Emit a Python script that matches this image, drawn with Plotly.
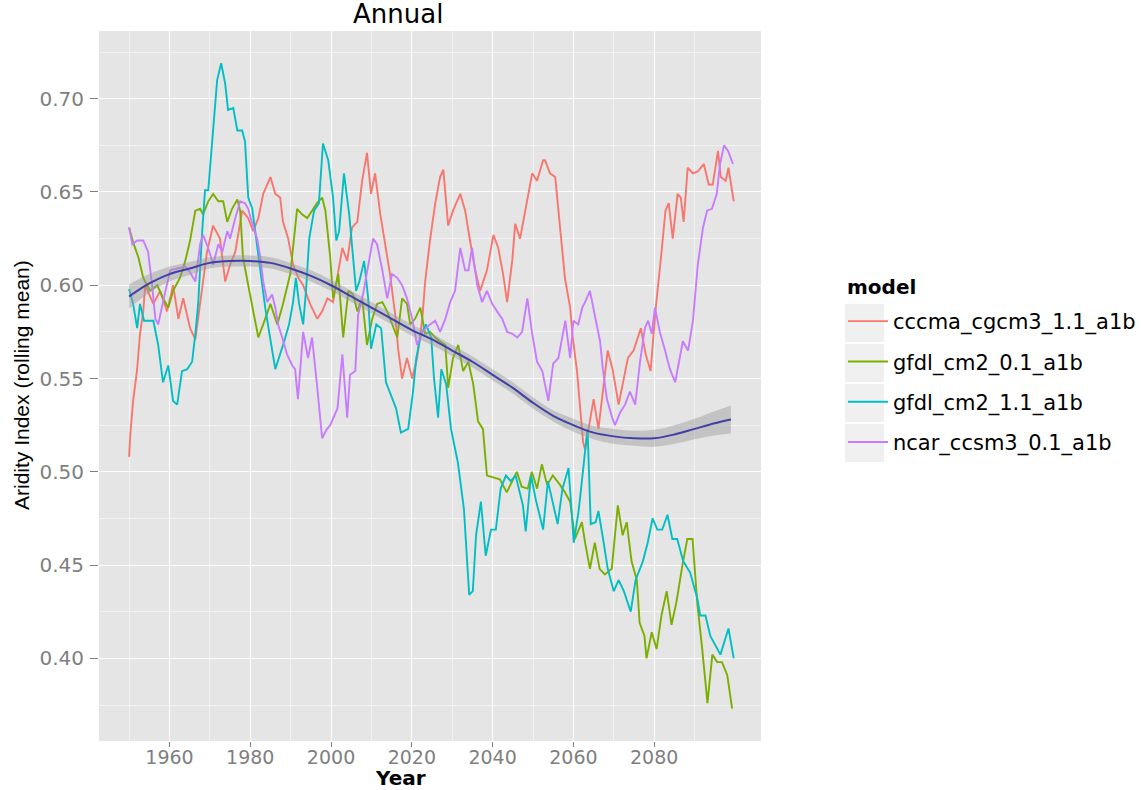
import plotly.graph_objects as go

# Rolling-mean aridity index per model (year, value)
cccma_years = [1950.0, 1950.3, 1951.0, 1952.0, 1952.7, 1953.5, 1954.0, 1956.0, 1957.7, 1959.4, 1960.9, 1962.2,
               1963.4, 1965.1, 1966.4, 1968.1, 1969.3, 1970.8, 1972.5, 1973.8, 1975.0, 1976.3, 1978.0, 1979.5,
               1980.7, 1982.0, 1983.2, 1985.0, 1986.2, 1987.4, 1988.1, 1989.4, 1990.6, 1991.9, 1993.1, 1994.8,
               1996.6, 1997.8, 1999.1, 2000.5, 2001.6, 2002.8, 2004.0, 2005.2, 2006.5, 2007.7, 2008.9, 2009.9,
               2010.9, 2012.2, 2013.4, 2014.6, 2015.9, 2016.6, 2017.6, 2018.8, 2020.1, 2021.3, 2022.6, 2023.3,
               2024.5, 2025.8, 2027.0, 2027.8, 2029.0, 2030.2, 2032.0, 2033.2, 2034.4, 2035.7, 2036.9, 2038.6,
               2040.2, 2041.4, 2042.6, 2043.6, 2044.9, 2045.6, 2046.8, 2048.6, 2049.8, 2051.0, 2052.5, 2053.0,
               2054.2, 2055.5, 2056.2, 2057.2, 2057.9, 2059.2, 2059.9, 2060.9, 2061.7, 2062.4, 2062.9, 2065.0,
               2066.2, 2068.5, 2069.7, 2071.2, 2073.5, 2074.9, 2076.7, 2077.9, 2079.1, 2080.4, 2081.6, 2082.8,
               2083.6, 2084.6, 2085.8, 2086.6, 2087.3, 2088.3, 2089.6, 2090.8, 2092.3, 2093.5, 2094.5, 2095.8,
               2096.5, 2097.7, 2098.4, 2099.7]
cccma_vals = [0.508, 0.520, 0.538, 0.555, 0.574, 0.586, 0.600, 0.590, 0.597, 0.586, 0.600, 0.582,
              0.593, 0.577, 0.571, 0.600, 0.618, 0.632, 0.625, 0.602, 0.611, 0.618, 0.640, 0.636,
              0.629, 0.636, 0.649, 0.658, 0.649, 0.647, 0.634, 0.625, 0.611, 0.604, 0.600, 0.590,
              0.582, 0.586, 0.593, 0.591, 0.604, 0.620, 0.613, 0.631, 0.634, 0.656, 0.671, 0.649,
              0.660, 0.638, 0.622, 0.606, 0.584, 0.566, 0.550, 0.561, 0.550, 0.561, 0.582, 0.602,
              0.624, 0.644, 0.658, 0.662, 0.632, 0.640, 0.649, 0.640, 0.624, 0.608, 0.597, 0.608,
              0.627, 0.620, 0.606, 0.591, 0.614, 0.633, 0.625, 0.645, 0.660, 0.656, 0.667, 0.667,
              0.660, 0.658, 0.641, 0.617, 0.604, 0.588, 0.571, 0.554, 0.532, 0.516, 0.512, 0.539,
              0.523, 0.565, 0.555, 0.536, 0.561, 0.565, 0.577, 0.563, 0.554, 0.588, 0.613, 0.640,
              0.644, 0.625, 0.649, 0.647, 0.634, 0.663, 0.660, 0.661, 0.665, 0.654, 0.654, 0.672,
              0.658, 0.656, 0.663, 0.645]

gfdl01_years = [1950.0, 1951.0, 1952.3, 1953.5, 1955.2, 1957.0, 1958.4, 1959.7, 1960.9, 1962.6, 1963.9, 1965.1,
                1966.4, 1967.6, 1968.3, 1969.6, 1970.8, 1972.1, 1973.3, 1974.3, 1975.5, 1976.8, 1977.5, 1978.2,
                1979.5, 1980.7, 1982.0, 1983.2, 1985.0, 1986.7, 1988.1, 1989.9, 1990.6, 1991.6, 1992.8, 1994.1,
                1995.3, 1996.5, 1997.8, 1998.6, 1999.8, 2000.5, 2001.8, 2003.0, 2004.3, 2005.5, 2006.5, 2007.7,
                2008.9, 2010.2, 2011.4, 2012.7, 2013.9, 2015.1, 2016.4, 2017.6, 2018.8, 2019.6, 2020.8, 2022.1,
                2023.3, 2024.5, 2025.8, 2027.0, 2028.3, 2029.0, 2030.2, 2031.5, 2032.7, 2034.0, 2035.2, 2036.4,
                2037.6, 2038.6, 2041.8, 2043.5, 2046.0, 2047.2, 2048.7, 2049.7, 2051.0, 2052.2, 2053.5, 2054.9,
                2056.7, 2057.9, 2059.2, 2060.4, 2062.1, 2062.9, 2064.1, 2065.3, 2066.5, 2067.8, 2069.5, 2071.0,
                2072.2, 2073.2, 2074.4, 2075.7, 2076.4, 2077.6, 2078.1, 2079.4, 2080.6, 2081.8, 2083.1, 2084.3,
                2085.5, 2087.0, 2088.2, 2089.5, 2090.7, 2091.9, 2093.2, 2094.4, 2095.6, 2096.8, 2098.1, 2099.3]
gfdl01_vals = [0.631, 0.623, 0.615, 0.604, 0.597, 0.600, 0.593, 0.588, 0.597, 0.604, 0.613, 0.624,
               0.640, 0.641, 0.638, 0.645, 0.649, 0.645, 0.645, 0.634, 0.641, 0.646, 0.640, 0.615,
               0.600, 0.586, 0.572, 0.579, 0.590, 0.579, 0.590, 0.606, 0.620, 0.641, 0.638, 0.636,
               0.640, 0.644, 0.647, 0.640, 0.615, 0.593, 0.606, 0.572, 0.597, 0.595, 0.586, 0.593,
               0.568, 0.582, 0.590, 0.591, 0.586, 0.579, 0.572, 0.593, 0.590, 0.579, 0.582, 0.588,
               0.574, 0.575, 0.572, 0.570, 0.568, 0.545, 0.561, 0.568, 0.554, 0.559, 0.547, 0.527,
               0.523, 0.498, 0.496, 0.489, 0.500, 0.492, 0.491, 0.500, 0.491, 0.504, 0.493, 0.498,
               0.493, 0.489, 0.484, 0.464, 0.473, 0.462, 0.448, 0.462, 0.448, 0.445, 0.448, 0.482,
               0.466, 0.473, 0.452, 0.442, 0.419, 0.412, 0.400, 0.414, 0.405, 0.423, 0.436, 0.418,
               0.430, 0.450, 0.464, 0.464, 0.429, 0.405, 0.376, 0.402, 0.398, 0.398, 0.391, 0.373]

gfdl11_years = [1950.0, 1951.0, 1952.0, 1952.7, 1953.7, 1954.7, 1956.0, 1957.2, 1958.4, 1959.7, 1960.9, 1961.9,
                1963.1, 1964.4, 1965.6, 1966.4, 1967.1, 1968.1, 1968.8, 1969.6, 1970.6, 1971.8, 1972.8, 1973.8,
                1974.5, 1975.8, 1976.8, 1978.0, 1978.7, 1979.5, 1980.5, 1982.5, 1983.7, 1984.9, 1986.2, 1988.4,
                1989.6, 1990.6, 1991.3, 1992.1, 1993.1, 1993.8, 1994.6, 1995.8, 1997.0, 1998.0, 1999.3, 2000.5,
                2001.3, 2002.0, 2003.2, 2004.5, 2005.5, 2006.2, 2007.0, 2008.2, 2009.2, 2009.9, 2011.2, 2012.4,
                2013.6, 2014.9, 2016.1, 2017.3, 2019.1, 2020.3, 2021.1, 2022.3, 2023.5, 2024.8, 2025.5, 2026.5,
                2027.3, 2028.5, 2029.7, 2031.4, 2032.9, 2034.2, 2035.1, 2035.9, 2037.1, 2038.3, 2039.6, 2040.8,
                2042.0, 2043.3, 2044.5, 2045.7, 2047.5, 2048.2, 2049.5, 2050.7, 2052.5, 2053.7, 2054.9, 2056.1,
                2057.3, 2058.8, 2060.1, 2061.3, 2063.5, 2064.3, 2065.5, 2066.2, 2067.5, 2068.5, 2070.0, 2071.2,
                2072.5, 2074.2, 2075.4, 2077.2, 2078.4, 2079.6, 2080.8, 2082.0, 2083.3, 2084.5, 2085.7, 2087.2,
                2088.9, 2090.7, 2091.4, 2092.7, 2093.9, 2095.2, 2096.4, 2098.4, 2099.7]
gfdl11_vals = [0.598, 0.590, 0.577, 0.590, 0.581, 0.581, 0.581, 0.568, 0.548, 0.557, 0.538, 0.536,
               0.554, 0.555, 0.559, 0.574, 0.590, 0.629, 0.651, 0.651, 0.676, 0.710, 0.719, 0.708,
               0.694, 0.695, 0.683, 0.683, 0.677, 0.647, 0.641, 0.609, 0.588, 0.572, 0.555, 0.570,
               0.579, 0.591, 0.604, 0.590, 0.579, 0.597, 0.625, 0.640, 0.644, 0.676, 0.667, 0.647,
               0.624, 0.629, 0.660, 0.638, 0.611, 0.597, 0.602, 0.613, 0.593, 0.566, 0.579, 0.577,
               0.548, 0.541, 0.534, 0.521, 0.523, 0.543, 0.561, 0.574, 0.579, 0.572, 0.550, 0.529,
               0.555, 0.547, 0.523, 0.505, 0.480, 0.434, 0.436, 0.466, 0.484, 0.455, 0.469, 0.469,
               0.491, 0.498, 0.495, 0.498, 0.482, 0.468, 0.498, 0.485, 0.469, 0.495, 0.484, 0.472,
               0.491, 0.502, 0.462, 0.479, 0.523, 0.472, 0.473, 0.479, 0.462, 0.448, 0.436, 0.442,
               0.436, 0.425, 0.442, 0.452, 0.462, 0.475, 0.469, 0.469, 0.477, 0.464, 0.464, 0.452,
               0.446, 0.432, 0.423, 0.423, 0.412, 0.407, 0.402, 0.416, 0.400]

ncar_years = [1950.0, 1950.8, 1952.0, 1953.5, 1954.7, 1955.7, 1956.5, 1957.2, 1959.0, 1960.2, 1961.9, 1963.9,
              1965.1, 1966.4, 1967.6, 1968.3, 1969.6, 1970.8, 1972.1, 1973.1, 1974.3, 1975.0, 1976.3, 1977.5,
              1978.7, 1979.5, 1980.5, 1981.7, 1982.5, 1983.2, 1984.2, 1985.4, 1986.2, 1986.9, 1987.9, 1989.1,
              1990.4, 1991.1, 1991.8, 1993.1, 1994.3, 1995.3, 1996.5, 1997.8, 1999.0, 1999.8, 2001.6, 2002.8,
              2004.0, 2004.7, 2006.0, 2006.7, 2007.9, 2009.2, 2010.4, 2011.4, 2012.7, 2013.9, 2015.1, 2016.4,
              2017.6, 2018.8, 2020.1, 2021.3, 2022.6, 2024.5, 2025.8, 2027.0, 2028.3, 2029.5, 2030.7, 2032.0,
              2033.2, 2034.0, 2034.9, 2036.2, 2037.4, 2038.6, 2039.9, 2041.1, 2042.4, 2043.6, 2044.9, 2046.1,
              2047.3, 2048.6, 2049.8, 2051.0, 2052.3, 2053.8, 2055.0, 2056.3, 2058.0, 2059.2, 2060.0, 2061.2,
              2062.2, 2062.9, 2064.1, 2065.3, 2066.6, 2067.3, 2068.3, 2069.6, 2070.3, 2071.6, 2072.8, 2074.0,
              2075.3, 2076.5, 2077.7, 2078.5, 2079.4, 2080.2, 2081.4, 2082.7, 2083.9, 2085.2, 2086.4, 2087.1,
              2088.4, 2089.6, 2090.8, 2092.1, 2093.1, 2094.3, 2095.5, 2096.3, 2097.3, 2098.3, 2099.5]
ncar_vals = [0.631, 0.622, 0.624, 0.624, 0.618, 0.600, 0.582, 0.579, 0.597, 0.608, 0.609, 0.610,
             0.607, 0.602, 0.622, 0.627, 0.620, 0.611, 0.622, 0.618, 0.629, 0.625, 0.636, 0.645,
             0.644, 0.641, 0.633, 0.625, 0.615, 0.602, 0.591, 0.595, 0.588, 0.579, 0.572, 0.563,
             0.557, 0.555, 0.539, 0.575, 0.561, 0.572, 0.547, 0.518, 0.523, 0.525, 0.534, 0.563,
             0.529, 0.552, 0.554, 0.584, 0.595, 0.611, 0.625, 0.622, 0.608, 0.593, 0.606, 0.604,
             0.600, 0.593, 0.582, 0.568, 0.575, 0.579, 0.581, 0.575, 0.582, 0.591, 0.597, 0.620,
             0.608, 0.608, 0.620, 0.600, 0.591, 0.597, 0.590, 0.586, 0.582, 0.575, 0.574, 0.572,
             0.575, 0.593, 0.574, 0.559, 0.554, 0.538, 0.558, 0.561, 0.581, 0.561, 0.581, 0.579,
             0.588, 0.591, 0.597, 0.584, 0.570, 0.555, 0.539, 0.529, 0.525, 0.532, 0.536, 0.543,
             0.536, 0.559, 0.577, 0.581, 0.574, 0.588, 0.575, 0.565, 0.555, 0.548, 0.563, 0.570,
             0.565, 0.581, 0.611, 0.631, 0.640, 0.641, 0.649, 0.665, 0.675, 0.672, 0.665]

# Smoothed trend across all models with its confidence band
smooth_years = [1950, 1955, 1960, 1965, 1970, 1975, 1980, 1985, 1990, 1995, 2000, 2005, 2010, 2015, 2020,
                2025, 2030, 2035, 2040, 2045, 2050, 2055, 2060, 2065, 2070, 2075, 2080, 2085, 2090, 2095, 2099]
smooth_vals = [0.594, 0.601, 0.606, 0.609, 0.612, 0.613, 0.613, 0.612, 0.609, 0.605, 0.600, 0.594, 0.588,
               0.582, 0.576, 0.571, 0.565, 0.559, 0.552, 0.545, 0.537, 0.530, 0.525, 0.521, 0.519, 0.518,
               0.518, 0.520, 0.523, 0.526, 0.528]
smooth_se = [0.0065, 0.005, 0.004, 0.0035, 0.003, 0.003, 0.003, 0.003, 0.003, 0.003, 0.003, 0.003, 0.003,
             0.003, 0.003, 0.003, 0.003, 0.003, 0.003, 0.003, 0.003, 0.003, 0.0035, 0.0035, 0.004, 0.004,
             0.0045, 0.005, 0.0055, 0.0065, 0.0075]

model_names = ["cccma_cgcm3_1.1_a1b", "gfdl_cm2_0.1_a1b", "gfdl_cm2_1.1_a1b", "ncar_ccsm3_0.1_a1b"]
model_colors = ["#F8766D", "#7CAE00", "#00BFC4", "#C77CFF"]
series = [(cccma_years, cccma_vals), (gfdl01_years, gfdl01_vals),
          (gfdl11_years, gfdl11_vals), (ncar_years, ncar_vals)]

x_ticks = [1960, 1980, 2000, 2020, 2040, 2060, 2080]
x_minor = [1950, 1970, 1990, 2010, 2030, 2050, 2070, 2090]
y_ticks = [0.40, 0.45, 0.50, 0.55, 0.60, 0.65, 0.70]
y_minor = [0.375, 0.425, 0.475, 0.525, 0.575, 0.625, 0.675, 0.725]

WIDE = "DejaVu Sans, Verdana, sans-serif"
NARROW = "Liberation Sans, Arial, sans-serif"

# plot panel placement in pixels
W, H = 1147, 790
ML, MR, MT, MB = 99, 386, 31, 49
PW, PH = W - ML - MR, H - MT - MB


def px_x(px):
    return (px - ML) / PW


def px_y(py):
    return (H - MB - py) / PH


fig = go.Figure()

for name, color, (xs, ys) in zip(model_names, model_colors, series):
    fig.add_trace(go.Scatter(
        x=xs, y=ys, mode="lines", name=name, legendgroup=name,
        line=dict(color=color, width=1.9),
    ))

upper = [v + s for v, s in zip(smooth_vals, smooth_se)]
lower = [v - s for v, s in zip(smooth_vals, smooth_se)]
fig.add_trace(go.Scatter(x=smooth_years, y=upper, mode="lines", line=dict(width=0, shape="spline"),
                         showlegend=False, hoverinfo="skip"))
fig.add_trace(go.Scatter(x=smooth_years, y=lower, mode="lines", line=dict(width=0, shape="spline"),
                         fill="tonexty", fillcolor="rgba(153,153,153,0.45)",
                         showlegend=False, hoverinfo="skip"))
fig.add_trace(go.Scatter(x=smooth_years, y=smooth_vals, mode="lines",
                         line=dict(color="#3F3FA8", width=2, shape="spline"),
                         showlegend=False))

# grey key backgrounds behind the legend entries
key_shapes = []
for k in range(len(model_names)):
    top = 304 + 40 * k
    key_shapes.append(dict(
        type="rect", xref="paper", yref="paper", layer="below",
        x0=px_x(845), x1=px_x(884), y0=px_y(top + 38), y1=px_y(top),
        fillcolor="#F0F0F0", line=dict(width=0),
    ))

fig.update_layout(
    width=W, height=H,
    margin=dict(l=ML, r=MR, t=MT, b=MB, autoexpand=False),
    paper_bgcolor="white", plot_bgcolor="#E5E5E5",
    font=dict(family=WIDE, color="#7F7F7F", size=15),
    showlegend=True,
    legend=dict(
        font=dict(size=21, color="black", family=WIDE),
        x=px_x(843), xanchor="left", y=px_y(301), yanchor="top",
        bgcolor="rgba(0,0,0,0)", tracegroupgap=10, itemwidth=40,
    ),
    shapes=key_shapes,
    annotations=[
        dict(text="Annual", x=px_x(398), xref="paper", y=px_y(14), yref="paper",
             yanchor="middle", showarrow=False,
             font=dict(size=26, color="black", family=WIDE)),
        dict(text="<b>model</b>", x=px_x(845), xref="paper", xanchor="left",
             y=px_y(287), yref="paper", yanchor="middle", showarrow=False,
             font=dict(size=20, color="black", family=WIDE)),
        dict(text="<b>Year</b>", x=px_x(400), xref="paper", y=px_y(778), yref="paper",
             yanchor="middle", showarrow=False,
             font=dict(size=20, color="black", family=WIDE)),
        dict(text="Aridity Index (rolling mean)", x=px_x(21), xref="paper", y=px_y(385),
             yref="paper", xanchor="center", yanchor="middle", textangle=-90, showarrow=False,
             font=dict(size=21, color="black", family=NARROW)),
    ],
)

fig.update_xaxes(
    range=[1942.55, 2106.45], tickvals=x_ticks, ticktext=[str(t) for t in x_ticks],
    showgrid=True, gridcolor="white", gridwidth=1.4, zeroline=False, automargin=False,
    ticks="outside", ticklen=5, tickcolor="#7F7F7F", tickwidth=1, ticklabelstandoff=-6,
    tickfont=dict(size=19, color="#7F7F7F", family=WIDE),
    minor=dict(tickvals=x_minor, showgrid=True, gridcolor="#F2F2F2", gridwidth=0.8, ticks=""),
)
fig.update_yaxes(
    range=[0.3557, 0.7363], tickvals=y_ticks, ticktext=[f"{t:.2f}" for t in y_ticks],
    showgrid=True, gridcolor="white", gridwidth=1.4, zeroline=False, automargin=False,
    ticks="outside", ticklen=8, tickcolor="#7F7F7F", tickwidth=1, ticklabelstandoff=2,
    tickfont=dict(size=20, color="#7F7F7F", family=WIDE),
    minor=dict(tickvals=y_minor, showgrid=True, gridcolor="#F2F2F2", gridwidth=0.8, ticks=""),
)

fig.write_html("out.html")
